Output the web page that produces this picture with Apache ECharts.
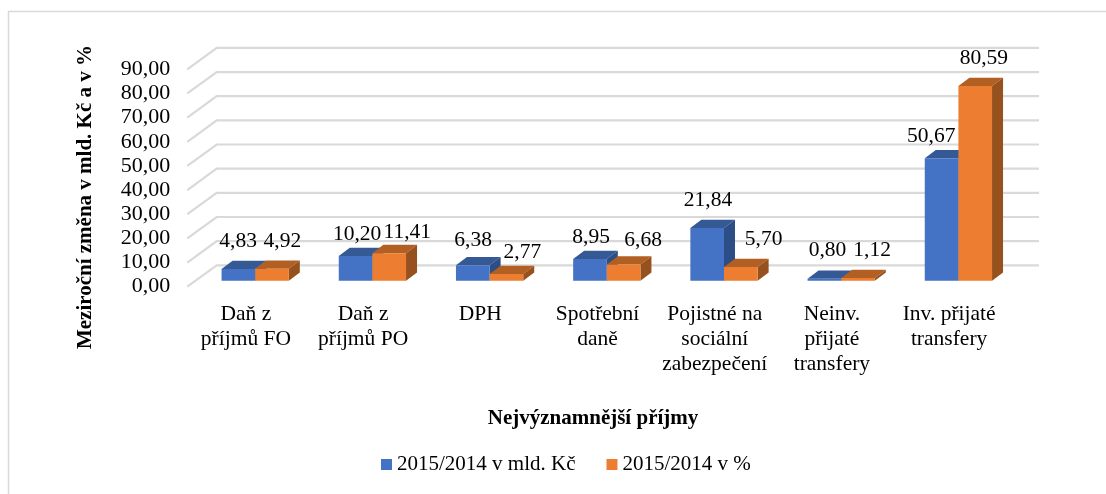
<!DOCTYPE html>
<html>
<head>
<meta charset="utf-8">
<style>
html,body{margin:0;padding:0;background:#fff;overflow:hidden;height:494px;}
#chart{width:1106px;height:494px;filter:blur(0.4px);}
</style>
<script src="https://cdn.jsdelivr.net/npm/echarts@6/dist/echarts.min.js"></script>
</head>
<body>
<div id="chart"></div>
<script>
var categories = ['Daň z\npříjmů FO','Daň z\npříjmů PO','DPH','Spotřební\ndaně','Pojistné na\nsociální\nzabezpečení','Neinv.\npřijaté\ntransfery','Inv. přijaté\ntransfery'];
var seriesKc = [4.83,10.20,6.38,8.95,21.84,0.80,50.67];
var seriesPct = [4.92,11.41,2.77,6.68,5.70,1.12,80.59];
var yTicks = [0,10,20,30,40,50,60,70,80,90];
var nameKc = '2015/2014 v mld. Kč';
var namePct = '2015/2014 v %';

// label nudges (px) relative to the bar centre / bar top
var nudgeKc = [[-0.3,0],[1.5,5.3],[0.3,2.7],[1.2,6],[0.8,-0.7],[3.1,-1],[-10.3,5]];
var nudgePct = [[10.3,0],[18,6.3],[15.9,5.6],[19.5,3.4],[22.8,0],[14.1,0],[8.6,0]];

var FONT = '"Liberation Serif","Times New Roman",serif';
var BACK_DX = 29.4, BACK_DY = -21.4;   // floor depth of the 3D box
var BACK_END = 1.9;                     // back wall runs slightly past the last band
var SHIFT_X = 9.3, SHIFT_Y = -6;        // bar front relative to box front
var DEPTH_X = 11, DEPTH_Y = -8.3;       // bar depth
var BAR_W_RATIO = 0.287;

function gridItem(params, api){
  var v = api.value(0);
  var cs = params.coordSys;
  var y = api.coord([0, v])[1];
  var x0 = cs.x, x1 = cs.x + cs.width;
  return {
    type:'polyline',
    silent:true,
    shape:{points:[[x0,y],[x0+BACK_DX,y+BACK_DY],[x1+BACK_DX+BACK_END,y+BACK_DY]]},
    style:{fill:null,stroke:'#d9d9d9',lineWidth:2.2}
  };
}

function barRenderer(side, front, top, right, nudges){
  return function(params, api){
    var idx = api.value(0), val = api.value(1);
    var pTop = api.coord([idx, val]);
    var pBase = api.coord([idx, 0]);
    var band = api.size([1,0])[0];
    var w = band * BAR_W_RATIO;
    var xl = pTop[0] + SHIFT_X + (side < 0 ? -w : 0);
    var xr = xl + w;
    var yt = pTop[1] + SHIFT_Y, yb = pBase[1] + SHIFT_Y;
    var n = nudges[idx];
    return {
      type:'group',
      children:[
        {type:'polygon',shape:{points:[[xl,yt],[xl+DEPTH_X,yt+DEPTH_Y],[xr+DEPTH_X,yt+DEPTH_Y],[xr,yt]]},style:{fill:top}},
        {type:'polygon',shape:{points:[[xr,yt],[xr+DEPTH_X,yt+DEPTH_Y],[xr+DEPTH_X,yb+DEPTH_Y],[xr,yb]]},style:{fill:right}},
        {type:'rect',shape:{x:xl,y:yt,width:w,height:yb-yt},style:{fill:front}},
        {type:'text',z2:50,style:{
          text:api.value(1).toFixed(2).replace('.',','),
          x:(xl+xr)/2+n[0], y:yt-27.3+n[1],
          align:'center',verticalAlign:'middle',
          font:'21.5px '+FONT,fill:'#000'
        }}
      ]
    };
  };
}

var chart = echarts.init(document.getElementById('chart'), null, {renderer:'canvas'});
chart.setOption({
  animation:false,
  backgroundColor:'#fff',
  graphic:[{type:'rect',silent:true,z:-1,shape:{x:8.5,y:11.5,width:1120,height:520},
    style:{fill:'none',stroke:'#d9d9d9',lineWidth:1.5}}],
  grid:{left:187.3,top:69.3,width:820.4,height:217.4,containLabel:false},
  legend:{
    left:381,top:454,padding:0,itemWidth:11,itemHeight:11,itemGap:31,icon:'rect',
    data:[nameKc,namePct],
    textStyle:{fontFamily:FONT,fontSize:21,color:'#000'}
  },
  xAxis:{
    type:'category',data:categories,
    name:'Nejvýznamnější příjmy',nameLocation:'middle',nameGap:121,
    nameTextStyle:{fontFamily:FONT,fontSize:21,fontWeight:'bold',color:'#000',padding:[0,0,0,-9]},
    axisLine:{show:false},axisTick:{show:false},
    axisLabel:{fontFamily:FONT,fontSize:21.5,color:'#000',lineHeight:25,margin:15,interval:0}
  },
  yAxis:{
    type:'value',min:0,max:90,interval:10,
    name:'Meziroční změna v mld. Kč a v %',nameLocation:'middle',nameGap:91.5,nameRotate:90,
    nameTextStyle:{fontFamily:FONT,fontSize:21,fontWeight:'bold',color:'#000',padding:[0,38,0,0]},
    axisLine:{show:false},axisTick:{show:false},splitLine:{show:false},
    axisLabel:{fontFamily:FONT,fontSize:22,color:'#000',margin:17,padding:[14,0,0,0],
      formatter:function(v){return v.toFixed(2).replace('.',',');}}
  },
  series:[
    {type:'custom',name:'grid',silent:true,renderItem:gridItem,
      encode:{y:0},data:yTicks.map(function(v){return [v];}),z:1},
    {type:'custom',name:nameKc,itemStyle:{color:'#4472c4'},z:2,
      renderItem:barRenderer(-1,'#4472c4','#345994','#2d4d86',nudgeKc),
      encode:{x:0,y:1},
      data:seriesKc.map(function(v,i){return [i,v];})},
    {type:'custom',name:namePct,itemStyle:{color:'#ed7d31'},z:3,
      renderItem:barRenderer(1,'#ed7d31','#b15f22','#97511e',nudgePct),
      encode:{x:0,y:1},
      data:seriesPct.map(function(v,i){return [i,v];})}
  ]
});
</script>
</body>
</html>
